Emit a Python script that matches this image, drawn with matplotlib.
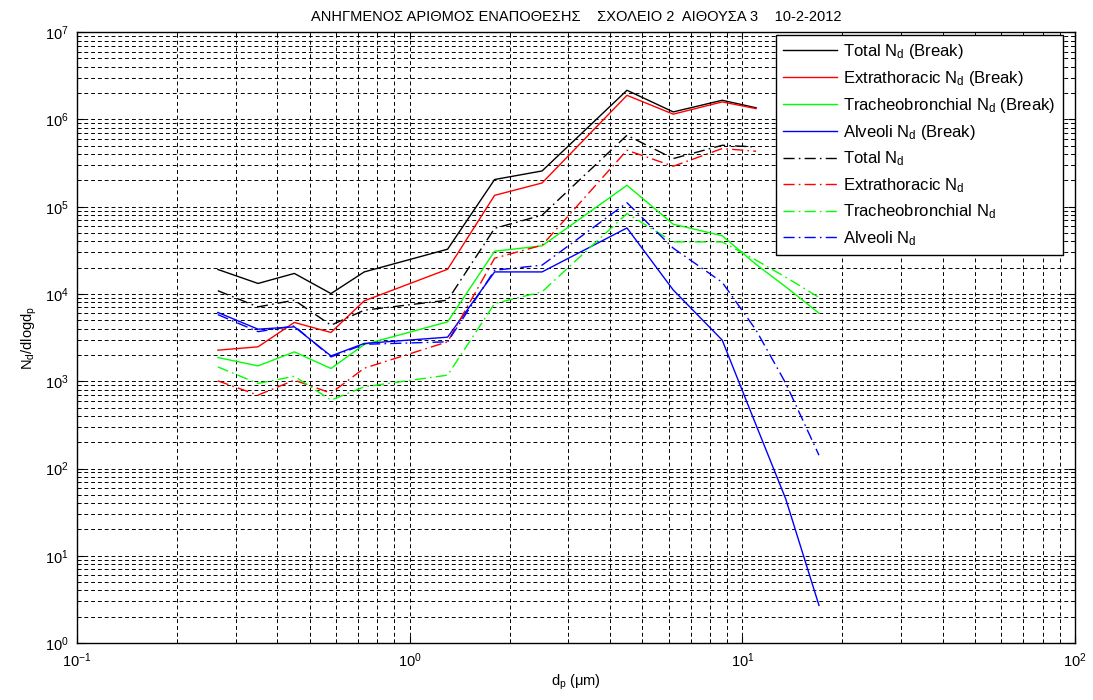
import numpy as np
import matplotlib
matplotlib.use("Agg")
import matplotlib.pyplot as plt
from matplotlib.ticker import FixedLocator, NullFormatter, LogFormatterSciNotation

plt.rcParams['font.family'] = ['Liberation Sans', 'DejaVu Sans']
plt.rcParams['mathtext.fontset'] = 'custom'
plt.rcParams['mathtext.rm'] = 'Liberation Sans'
plt.rcParams['mathtext.it'] = 'Liberation Sans'

nan = np.nan

# Particle diameter channels (um)
dp = [0.265, 0.35, 0.45, 0.58, 0.73, 1.3, 1.8, 2.5, 4.5, 6.2, 8.7, 11.0, 13.5, 17.0]

# Deposited number per region, breakdown run
total_break = [19100, 13200, 17200, 10100, 17900, 32600, 205000, 257000,
               2.16e6, 1.22e6, 1.66e6, 1.36e6, nan, nan]
et_break = [2270, 2480, 4720, 3620, 8340, 19200, 135000, 187000,
            1.89e6, 1.15e6, 1.59e6, 1.33e6, nan, nan]
tb_break = [1870, 1500, 2170, 1400, 2640, 4790, 30900, 35600,
            176000, 63000, 46500, 21800, 12100, 6030]
al_break = [6140, 3950, 4200, 1950, 2710, 3200, 17900, 17900,
            57100, 11100, 2960, 314, 45, 2.7]

# Deposited number per region
total_nd = [10900, 7110, 8490, 4390, 6520, 8490, 56500, 80000,
            659000, 356000, 506000, 484000, nan, nan]
et_nd = [1010, 693, 1030, 731, 1410, 2830, 25700, 36200,
         444000, 291000, 464000, 432000, nan, nan]
tb_nd = [1460, 944, 1140, 608, 863, 1175, 7780, 10600,
         83600, 39500, 39500, 24400, 15600, 9120]
al_nd = [5800, 3700, 4300, 1900, 2650, 2830, 18700, 21400,
         111000, 33500, 13600, 3850, 951, 142]

labels = ['Total N$_d$ (Break)', 'Extrathoracic N$_d$ (Break)',
          'Tracheobronchial N$_d$ (Break)', 'Alveoli N$_d$ (Break)',
          'Total N$_d$', 'Extrathoracic N$_d$',
          'Tracheobronchial N$_d$', 'Alveoli N$_d$']
colors = ['#000000', '#ff0000', '#00ff00', '#0000ff']

x_major = [10.0 ** k for k in range(-1, 3)]
y_major = [10.0 ** k for k in range(0, 8)]

fig = plt.figure(figsize=(10.93, 7.0), dpi=100)
ax = fig.add_axes([0.0705, 0.0814, 0.913, 0.8726])

solid = [total_break, et_break, tb_break, al_break]
dashed = [total_nd, et_nd, tb_nd, al_nd]
for ys, c, lab in zip(solid, colors, labels[:4]):
    ax.plot(dp, ys, color=c, lw=1.0, label=lab)
for ys, c, lab in zip(dashed, colors, labels[4:]):
    ax.plot(dp, ys, color=c, lw=1.0, dashes=(8, 3, 1.2, 3), label=lab)

ax.set_xscale('log')
ax.set_yscale('log')
ax.set_xlim(0.1, 100)
ax.set_ylim(1, 1e7)

x_minor = [m * d for d in x_major[:-1] for m in range(2, 10)]
y_minor = [m * d for d in y_major[:-1] for m in range(2, 10)]
ax.xaxis.set_major_locator(FixedLocator(x_major))
ax.yaxis.set_major_locator(FixedLocator(y_major))
ax.xaxis.set_minor_locator(FixedLocator(x_minor))
ax.yaxis.set_minor_locator(FixedLocator(y_minor))
ax.xaxis.set_major_formatter(LogFormatterSciNotation())
ax.yaxis.set_major_formatter(LogFormatterSciNotation())
ax.xaxis.set_minor_formatter(NullFormatter())
ax.yaxis.set_minor_formatter(NullFormatter())

ax.grid(True, which='both', color='black', lw=0.7, linestyle=(0, (4, 3)))
ax.set_axisbelow(True)
ax.tick_params(which='both', direction='in', top=True, right=True,
               labelsize=10.5, pad=6)
ax.tick_params(which='major', length=5)
ax.tick_params(which='minor', length=3)
for s in ax.spines.values():
    s.set_linewidth(1.0)

ax.set_title('ΑΝΗΓΜΕΝΟΣ ΑΡΙΘΜΟΣ ΕΝΑΠΟΘΕΣΗΣ    ΣΧΟΛΕΙΟ 2  ΑΙΘΟΥΣΑ 3    10-2-2012',
             fontsize=10.5, pad=8)
ax.set_xlabel('d$_p$ (μm)', fontsize=10.5, labelpad=2)
ax.set_ylabel('N$_d$/dlogd$_p$', fontsize=10.5, labelpad=4)

leg = ax.legend(loc='upper right', bbox_to_anchor=(0.988, 0.996), fontsize=12,
                frameon=True, fancybox=False, framealpha=1.0, edgecolor='black',
                handlelength=3.2, handletextpad=0.4, labelspacing=0.47,
                borderpad=0.45, borderaxespad=0.0)
leg.get_frame().set_linewidth(1.0)

fig.savefig('out.png', dpi=100)
